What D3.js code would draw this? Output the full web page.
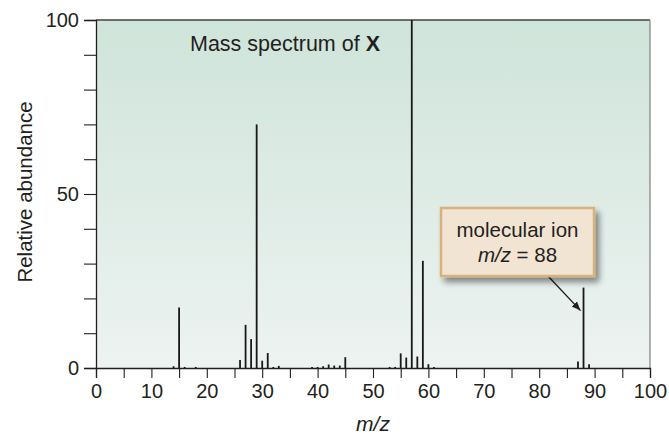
<!DOCTYPE html>
<html>
<head>
<meta charset="utf-8">
<script src="https://cdn.jsdelivr.net/npm/d3@7"></script>
<style>
  body { margin: 0; background: #fff; }
  svg text { font-family: "Liberation Sans", Arial, Helvetica, sans-serif; fill: #231f20; }
</style>
</head>
<body>
<div id="chart"></div>
<script>
// peaks
const mzValues = [14, 15, 16, 18, 26, 27, 28, 29, 30, 31, 32, 33, 39, 40, 41, 42, 43, 44, 45,
    53, 54, 55, 56, 57, 58, 59, 60, 61, 87, 88, 89];
const abundance = [0.5, 17.4, 0.3, 0.3, 2.3, 12.4, 8.3, 70, 2.1, 4.3, 0.3, 0.6, 0.3, 0.3, 0.5, 1.0, 0.7, 0.7, 3.1,
    0.3, 0.3, 4.2, 3.0, 100, 3.3, 30.8, 1.1, 0.3, 1.9, 23.1, 1.1];
const xTicks = d3.range(0, 101, 5);
const yTicks = d3.range(0, 101, 10);
const xLabels = [0, 10, 20, 30, 40, 50, 60, 70, 80, 90, 100];
const yLabels = [0, 50, 100];
const ionMz = 88;

const width = 669, height = 435;
const margin = {top: 20, right: 19, bottom: 67, left: 96};
const w = width - margin.left - margin.right;
const h = height - margin.top - margin.bottom;

const svg = d3.select("#chart").append("svg")
    .attr("width", width)
    .attr("height", height);

const defs = svg.append("defs");
const grad = defs.append("linearGradient")
    .attr("id", "bg").attr("x1", 0).attr("y1", 0).attr("x2", 0).attr("y2", 1);
grad.append("stop").attr("offset", "0%").attr("stop-color", "#cfe4da");
grad.append("stop").attr("offset", "100%").attr("stop-color", "#edf3f1");

const shadow = defs.append("filter").attr("id", "shadow")
    .attr("x", "-20%").attr("y", "-20%").attr("width", "150%").attr("height", "160%");
shadow.append("feGaussianBlur").attr("in", "SourceAlpha").attr("stdDeviation", 3);
shadow.append("feOffset").attr("dx", 4).attr("dy", 5).attr("result", "off");
shadow.append("feComponentTransfer").append("feFuncA").attr("type", "linear").attr("slope", 0.45);
const merge = shadow.append("feMerge");
merge.append("feMergeNode");
merge.append("feMergeNode").attr("in", "SourceGraphic");

defs.append("marker")
    .attr("id", "arrow")
    .attr("viewBox", "0 0 10 10")
    .attr("refX", 10).attr("refY", 5)
    .attr("markerWidth", 9).attr("markerHeight", 9)
    .attr("markerUnits", "userSpaceOnUse")
    .attr("orient", "auto")
    .append("path").attr("d", "M0,1 L10,5 L0,9 Z").attr("fill", "#231f20");

const g = svg.append("g").attr("transform", `translate(${margin.left},${margin.top})`);

const x = d3.scaleLinear().domain([0, 100]).range([0, w]);
const y = d3.scaleLinear().domain([0, 100]).range([h, 0]);

// plot background + frame
g.append("rect").attr("width", w).attr("height", h).attr("fill", "url(#bg)");
g.append("line").attr("x1", 0).attr("x2", w).attr("y1", 0).attr("y2", 0)
    .attr("stroke", "#444").attr("stroke-width", 1.3);
g.append("line").attr("x1", w).attr("x2", w).attr("y1", 0).attr("y2", h)
    .attr("stroke", "#888").attr("stroke-width", 1.3);

// peaks
g.selectAll(".peak")
    .data(mzValues)
    .enter().append("line")
    .attr("class", "peak")
    .attr("x1", d => x(d)).attr("x2", d => x(d))
    .attr("y1", y(0))
    .attr("y2", (d, i) => y(abundance[i]))
    .attr("stroke", "#1a1718")
    .attr("stroke-width", 1.8);

// axes
const yAxis = g.append("g")
    .call(d3.axisLeft(y).tickValues(yTicks).tickSize(12).tickPadding(5)
        .tickFormat(d => yLabels.includes(d) ? d : ""));
const xAxis = g.append("g")
    .attr("transform", `translate(0,${h})`)
    .call(d3.axisBottom(x).tickValues(xTicks).tickSize(10).tickPadding(6)
        .tickFormat(d => xLabels.includes(d) ? d : ""));

[yAxis, xAxis].forEach(a => {
    a.select(".domain").attr("stroke", "#231f20").attr("stroke-width", 1.3);
    a.selectAll(".tick line").attr("stroke", "#231f20").attr("stroke-width", 1.1);
    a.selectAll("text").attr("font-size", 20).attr("fill", "#231f20");
});

// axis titles
svg.append("text")
    .attr("transform", `translate(32,${margin.top + h / 2 - 2}) rotate(-90)`)
    .attr("text-anchor", "middle")
    .attr("font-size", 20.5)
    .text("Relative abundance");

svg.append("text")
    .attr("x", margin.left + w / 2)
    .attr("y", 431)
    .attr("text-anchor", "middle")
    .attr("font-size", 21)
    .attr("font-style", "italic")
    .text("m/z");

// title
const title = g.append("text")
    .attr("x", 190 - margin.left)
    .attr("y", 51 - margin.top)
    .attr("font-size", 21.5);
title.append("tspan").text("Mass spectrum of ");
title.append("tspan").attr("font-weight", "bold").text("X");

// annotation box
const boxX = 441, boxY = 208, boxW = 153, boxH = 68;
const ionIdx = mzValues.indexOf(ionMz);
svg.append("line")
    .attr("x1", 548).attr("y1", boxY + boxH)
    .attr("x2", margin.left + x(ionMz) - 3)
    .attr("y2", margin.top + y(abundance[ionIdx]) + 23)
    .attr("stroke", "#231f20").attr("stroke-width", 1.4)
    .attr("marker-end", "url(#arrow)");

svg.append("rect")
    .attr("x", boxX).attr("y", boxY).attr("width", boxW).attr("height", boxH)
    .attr("fill", "#f2e4d3").attr("stroke", "#d8b17c").attr("stroke-width", 2.5)
    .attr("filter", "url(#shadow)");

svg.append("text")
    .attr("x", boxX + boxW / 2).attr("y", 237)
    .attr("text-anchor", "middle").attr("font-size", 20.5)
    .text("molecular ion");
const t2 = svg.append("text")
    .attr("x", boxX + boxW / 2).attr("y", 262)
    .attr("text-anchor", "middle").attr("font-size", 20.5);
t2.append("tspan").attr("font-style", "italic").text("m/z");
t2.append("tspan").text(" = " + ionMz);
</script>
</body>
</html>
